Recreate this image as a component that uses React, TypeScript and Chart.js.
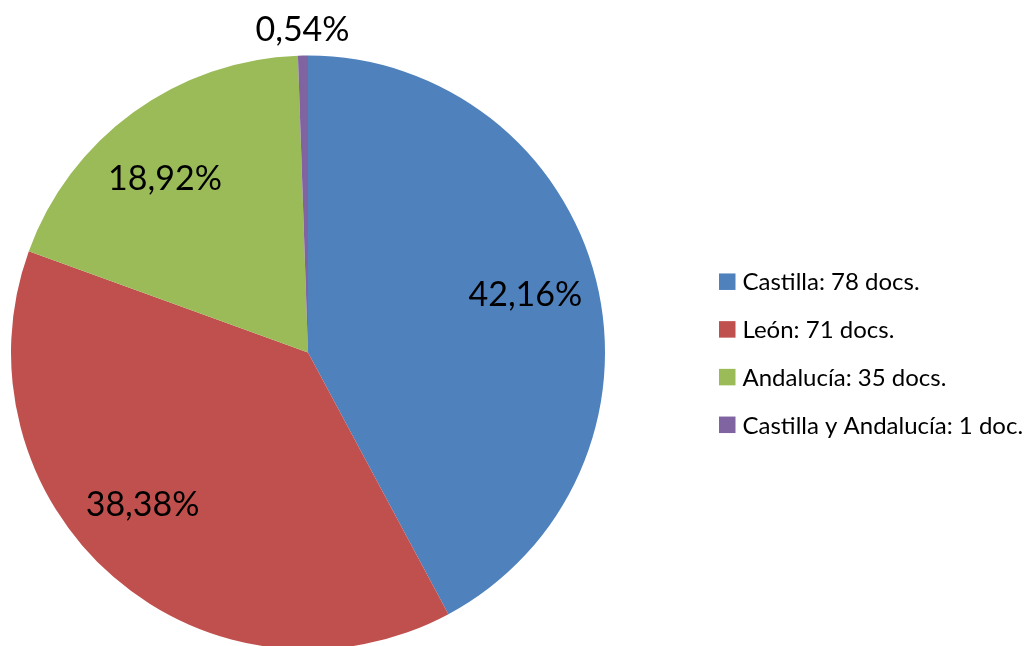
import React, { useEffect, useRef } from "react";
import { Chart, registerables } from "chart.js";

Chart.register(...registerables);

const categories = ["Castilla", "León", "Andalucía", "Castilla y Andalucía"];
const docCounts = [78, 71, 35, 1];
const docUnits = ["docs.", "docs.", "docs.", "doc."];
const sliceColors = ["#4F81BD", "#C0504D", "#9BBB59", "#8064A2"];

// label placement style: radial fraction of radius (or outside offset), small angle nudge (deg)
const labelRadial = [0.757, 0.757, 0.757, -1];
const labelAngleNudge = [-0.7, 6.5, -3.5, 0];

const FONT = "Lato, 'Liberation Sans', sans-serif";

const labelPlugin = {
  id: "sliceLabels",
  afterDatasetsDraw(chart: any) {
    const ctx = chart.ctx;
    const meta = chart.getDatasetMeta(0);
    const total = docCounts.reduce((a, b) => a + b, 0);
    ctx.save();
    ctx.font = `34px ${FONT}`;
    ctx.fillStyle = "#000";
    ctx.textAlign = "center";
    ctx.textBaseline = "middle";
    meta.data.forEach((arc: any, i: number) => {
      const { x, y, startAngle, endAngle, outerRadius } = arc.getProps(
        ["x", "y", "startAngle", "endAngle", "outerRadius"],
        true
      );
      const mid = (startAngle + endAngle) / 2 + (labelAngleNudge[i] * Math.PI) / 180;
      const dist = labelRadial[i] > 0 ? outerRadius * labelRadial[i] : outerRadius + 26;
      const lx = x + Math.cos(mid) * dist;
      const ly = y + Math.sin(mid) * dist;
      const pct = ((docCounts[i] / total) * 100).toFixed(2).replace(".", ",") + "%";
      ctx.fillText(pct, lx, ly);
    });
    ctx.restore();
  },
};

const legendPlugin = {
  id: "sideLegend",
  afterDraw(chart: any) {
    const ctx = chart.ctx;
    const boxX = 719;
    const firstY = 281.7;
    const step = 47.7;
    const box = 16.5;
    ctx.save();
    ctx.font = `24px ${FONT}`;
    ctx.textAlign = "left";
    ctx.textBaseline = "middle";
    categories.forEach((c, i) => {
      const cy = firstY + i * step;
      ctx.fillStyle = sliceColors[i];
      ctx.fillRect(boxX, cy - box / 2, box, box);
      ctx.fillStyle = "#000";
      ctx.fillText(`${c}: ${docCounts[i]} ${docUnits[i]}`, 742.5, cy + 1);
    });
    ctx.restore();
  },
};

export default function App() {
  const ref = useRef<HTMLCanvasElement>(null);
  useEffect(() => {
    if (!ref.current) return;
    const chart = new Chart(ref.current, {
      type: "pie",
      data: {
        labels: categories,
        datasets: [
          {
            data: docCounts,
            backgroundColor: sliceColors,
            borderWidth: 0,
            hoverOffset: 0,
            clip: false,
          } as any,
        ],
      },
      options: {
        responsive: false,
        animation: false,
        radius: 297,
        layout: { padding: { left: 11, right: 425, top: 59, bottom: 0 } },
        plugins: {
          legend: { display: false },
          tooltip: { enabled: false },
        },
      } as any,
      plugins: [labelPlugin, legendPlugin],
    });
    return () => chart.destroy();
  }, []);
  return (
    <div
      style={{
        position: "fixed",
        left: 0,
        top: 0,
        width: 1030,
        height: 646,
        overflow: "hidden",
        background: "#fff",
      }}
    >
      <canvas ref={ref} width={1030} height={646} style={{ display: "block" }} />
    </div>
  );
}
